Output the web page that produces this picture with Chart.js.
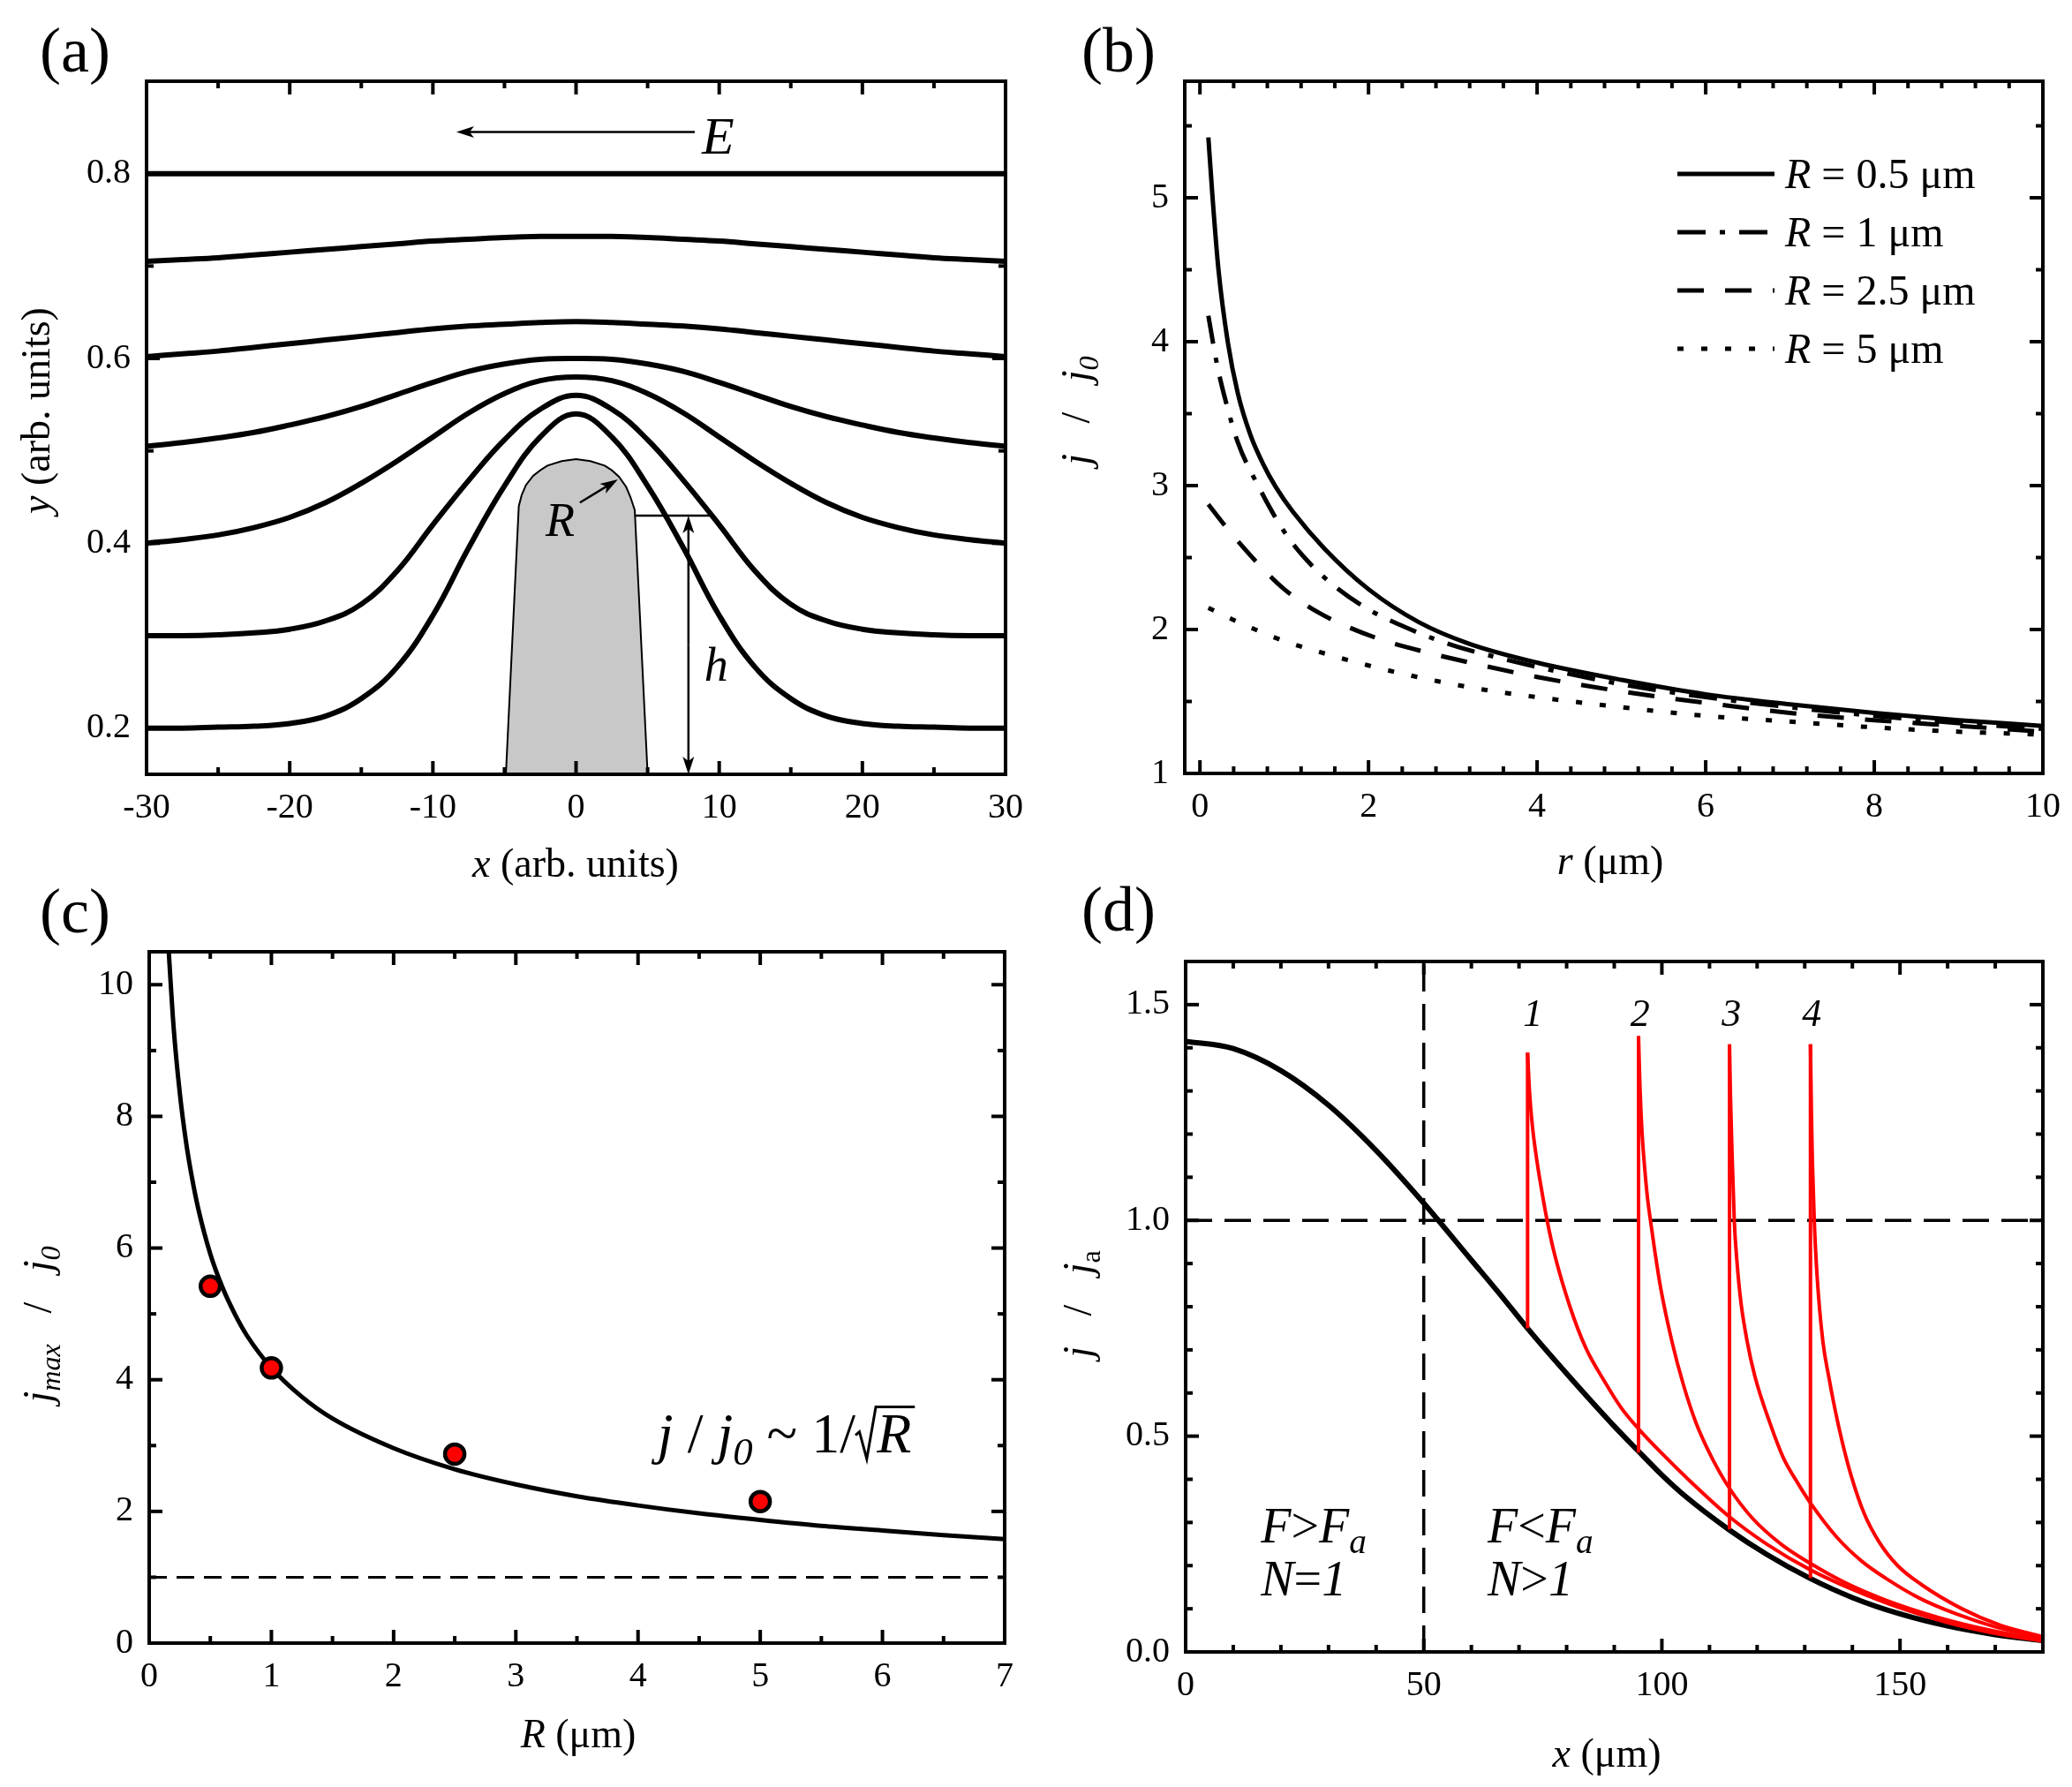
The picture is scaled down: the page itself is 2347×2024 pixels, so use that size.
<!DOCTYPE html>
<html>
<head>
<meta charset="utf-8">
<script src="https://cdn.jsdelivr.net/npm/chart.js@4.4.1/dist/chart.umd.min.js"></script>
<style>
  body { margin: 0; background: #fff; width: 2347px; height: 2024px; position: relative; overflow: hidden; }
  canvas { position: absolute; }
</style>
</head>
<body>
<canvas id="pa" width="1174" height="1012" style="left:0;top:0"></canvas>
<canvas id="pb" width="1173" height="1012" style="left:1174px;top:0"></canvas>
<canvas id="pc" width="1174" height="1064" style="left:0;top:960px"></canvas>
<canvas id="pd" width="1173" height="1064" style="left:1174px;top:960px"></canvas>
<script>
// ---------- (a) field lines around the tip ----------
const fieldX = [-30,-27.5,-25,-22.5,-20,-17.5,-15,-12.5,-10,-7.5,-5,-2.5,0,2.5,5,7.5,10,12.5,15,17.5,20,22.5,25,27.5,30];
const field02 = [0.200,0.200,0.201,0.202,0.205,0.213,0.232,0.266,0.322,0.395,0.462,0.515,0.540,0.515,0.462,0.395,0.322,0.266,0.232,0.213,0.205,0.202,0.201,0.200,0.200];
const field03 = [0.300,0.300,0.301,0.303,0.307,0.316,0.334,0.370,0.420,0.468,0.512,0.545,0.560,0.545,0.512,0.468,0.420,0.370,0.334,0.316,0.307,0.303,0.301,0.300,0.300];
const field04 = [0.400,0.404,0.409,0.417,0.428,0.444,0.465,0.489,0.515,0.541,0.562,0.576,0.580,0.576,0.562,0.541,0.515,0.489,0.465,0.444,0.428,0.417,0.409,0.404,0.400];
const field05 = [0.505,0.509,0.514,0.520,0.528,0.537,0.548,0.561,0.574,0.586,0.594,0.599,0.600,0.599,0.594,0.586,0.574,0.561,0.548,0.537,0.528,0.520,0.514,0.509,0.505];
const field06 = [0.602,0.605,0.608,0.612,0.616,0.620,0.624,0.628,0.632,0.635,0.637,0.639,0.640,0.639,0.637,0.635,0.632,0.628,0.624,0.620,0.616,0.612,0.608,0.605,0.602];
const field07 = [0.705,0.707,0.709,0.712,0.715,0.718,0.721,0.724,0.727,0.729,0.731,0.732,0.732,0.732,0.731,0.729,0.727,0.724,0.721,0.718,0.715,0.712,0.709,0.707,0.705];
const field08X = [-30, 30];
const field08 = [0.8, 0.8];
const tipX = [-4.9,-4.0,-3.8,-3.5,-3.0,-2.5,-2.0,-1.0,0,1.0,2.0,2.5,3.0,3.5,3.8,4.1,5.0];
const tipY = [0.15,0.440,0.452,0.463,0.473,0.479,0.484,0.489,0.491,0.489,0.484,0.479,0.472,0.461,0.450,0.436,0.15];
const aXTicks = [-30,-20,-10,0,10,20,30];
const aXLabels = ['-30','-20','-10','0','10','20','30'];
const aXMinor = [-25,-15,-5,5,15,25];
const aYTicks = [0.2,0.4,0.6,0.8];
const aYLabels = ['0.2','0.4','0.6','0.8'];
const aYMinor = [0.3,0.5,0.7];
const eArrowX = [-8.36, 8.29], eArrowY = 0.845;
const rArrow = [0.27, 0.444, 2.92, 0.469];
const hLineX = [4.1, 9.5], hLineY = 0.43, hArrowX = 7.85;

// ---------- (b) j/j0 vs r ----------
const bX05 = [0.1,0.15,0.22,0.33,0.45,0.6,0.75,0.9,1.1,1.48,2.0,2.6,3.2,4,5,6,7,8,9,10];
const bY05 = [5.42,5.0,4.5,4.0,3.64,3.35,3.15,2.99,2.82,2.56,2.28,2.05,1.9,1.77,1.65,1.55,1.48,1.42,1.37,1.33];
const bX1 = [0.1,0.2,0.3,0.45,0.69,1.0,1.24,1.6,2.0,2.5,3,3.5,4,5,6,7,8,9,10];
const bY1 = [4.18,3.85,3.6,3.3,3.0,2.68,2.5,2.3,2.14,2.0,1.89,1.81,1.74,1.62,1.53,1.46,1.40,1.35,1.31];
const bX25 = [0.1,0.3,0.5,0.75,1,1.4,1.75,2.2,2.7,3.2,4,5,6,7,8,9,10];
const bY25 = [2.87,2.72,2.58,2.42,2.28,2.12,2.02,1.92,1.84,1.77,1.67,1.57,1.49,1.42,1.37,1.33,1.29];
const bX5 = [0.1,0.5,1,1.5,2,2.5,3,3.5,4,5,6,7,8,9,10];
const bY5 = [2.15,2.04,1.92,1.83,1.75,1.68,1.62,1.57,1.53,1.46,1.40,1.36,1.32,1.29,1.27];
const bLegend = ['0.5', '1', '2.5', '5'];
const bXTicks = [0,2,4,6,8,10];
const bXLabels = ['0','2','4','6','8','10'];
const bXMinor = [0.4,0.8,1.2,1.6,2.4,2.8,3.2,3.6,4.4,4.8,5.2,5.6,6.4,6.8,7.2,7.6,8.4,8.8,9.2,9.6];
const bYTicks = [1,2,3,4,5];
const bYLabels = ['1','2','3','4','5'];
const bYMinor = [1.5,2.5,3.5,4.5,5.5];

// ---------- (c) jmax/j0 vs R ----------
const cFitX = [0.15,0.2,0.25,0.3,0.35,0.4,0.5,0.6,0.7,0.8,1,1.25,1.5,2,2.5,3,3.5,4,4.5,5,5.5,6,6.5,7];
const cFitY = [10.8,9.35,8.36,7.63,7.07,6.61,5.91,5.40,5.0,4.67,4.18,3.74,3.41,2.96,2.64,2.41,2.23,2.09,1.97,1.87,1.78,1.71,1.64,1.58];
const cDotX = [0.5, 1, 2.5, 5];
const cDotY = [5.42, 4.18, 2.87, 2.15];
const cRefX = [0, 7], cRefY = [1, 1];
const cXTicks = [0,1,2,3,4,5,6,7];
const cXLabels = ['0','1','2','3','4','5','6','7'];
const cXMinor = [0.5,1.5,2.5,3.5,4.5,5.5,6.5];
const cYTicks = [0,2,4,6,8,10];
const cYLabels = ['0','2','4','6','8','10'];
const cYMinor = [1,3,5,7,9];

// ---------- (d) j/ja vs x ----------
const dBaseX = [0,10,20,30,40,50,60,66,72,80,90,95,100,105,114,122,131,140,150,160,170,180];
const dBaseY = [1.415,1.398,1.347,1.267,1.162,1.04,0.908,0.829,0.747,0.645,0.523,0.466,0.41,0.36,0.284,0.226,0.171,0.126,0.088,0.06,0.04,0.026];
const d1JumpX = [71.8, 71.8], d1JumpY = [0.75, 1.389];
const d1X = [71.8,72.2,72.8,73.6,74.6,75.9,77.5,80.7,84,88,91.5,95.1,100,106,114.2,122,131.2,140,150,160,170,180];
const d1Y = [1.389,1.30,1.22,1.15,1.08,1.0,0.92,0.80,0.705,0.626,0.565,0.517,0.46,0.395,0.313,0.25,0.19,0.145,0.102,0.068,0.043,0.025];
const d2JumpX = [95.1, 95.1], d2JumpY = [0.462, 1.427];
const d2X = [95.1,95.4,95.8,96.4,97.0,97.6,98.5,99.8,102.1,104.5,107.2,110.5,114.2,119,125,131.2,138.2,147,158,169,180];
const d2Y = [1.427,1.31,1.21,1.12,1.05,1.0,0.93,0.84,0.72,0.62,0.53,0.45,0.379,0.31,0.25,0.205,0.162,0.12,0.08,0.05,0.028];
const d3JumpX = [114.2, 114.2], d3JumpY = [0.284, 1.408];
const d3X = [114.2,114.4,114.7,115.2,115.8,116.6,117.9,119.5,122.7,125.5,128.6,131.2,136.8,142,147.1,154,161.8,170,180];
const d3Y = [1.408,1.29,1.17,1.0,0.9,0.81,0.72,0.64,0.53,0.45,0.39,0.345,0.265,0.21,0.17,0.125,0.088,0.058,0.032];
const d4JumpX = [131.2, 131.2], d4JumpY = [0.171, 1.408];
const d4X = [131.2,131.4,131.6,132,132.6,133.8,135,136.3,137.8,139.7,142.5,145.6,149.5,154.5,163,171,180];
const d4Y = [1.408,1.25,1.14,1.0,0.87,0.72,0.64,0.565,0.49,0.41,0.32,0.255,0.2,0.156,0.1,0.062,0.035];
const dRefHX = [0, 180], dRefHY = [1, 1];
const dRefVX = [50, 50], dRefVY = [0, 1.6];
const dCurveTags = ['1', '2', '3', '4'];
const dCurveTagX = [72.9, 95.4, 114.6, 131.5];
const dXTicks = [0,50,100,150];
const dXLabels = ['0','50','100','150'];
const dXMinor = [10,20,30,40,60,70,80,90,110,120,130,140,160,170];
const dYTicks = [0,0.5,1.0,1.5];
const dYLabels = ['0.0','0.5','1.0','1.5'];
const dYMinor = [0.1,0.2,0.3,0.4,0.6,0.7,0.8,0.9,1.1,1.2,1.3,1.4];

const SERIF = '"Liberation Serif", "Times New Roman", serif';
Chart.defaults.font.family = SERIF;

const pts = (xs, ys) => xs.map((x, i) => ({x: x, y: ys[i]}));

// draws mixed italic / subscript text, returns its width
function rich(ctx, segs, x, y, size, align, rot) {
  ctx.save();
  ctx.translate(x, y);
  if (rot) ctx.rotate(rot);
  ctx.textBaseline = 'alphabetic';
  ctx.textAlign = 'left';
  const parts = segs.map(([t, st]) => {
    const sub = st.includes('s');
    const font = (st.includes('i') ? 'italic ' : '') + (sub ? size * 0.7 : size) + 'px ' + SERIF;
    ctx.font = font;
    return {t: t, font: font, w: ctx.measureText(t).width, dy: sub ? size * 0.22 : 0};
  });
  const total = parts.reduce((s, p) => s + p.w, 0);
  let cx = align === 'center' ? -total / 2 : (align === 'right' ? -total : 0);
  ctx.fillStyle = '#000';
  parts.forEach(p => { ctx.font = p.font; ctx.fillText(p.t, cx, p.dy); cx += p.w; });
  ctx.restore();
  return total;
}

function arrow(ctx, x1, y1, x2, y2) {
  const len = 20, half = 6.5;
  const ang = Math.atan2(y2 - y1, x2 - x1), c = Math.cos(ang), s = Math.sin(ang);
  ctx.beginPath(); ctx.moveTo(x1, y1); ctx.lineTo(x2 - c * len * 0.7, y2 - s * len * 0.7); ctx.stroke();
  ctx.beginPath();
  ctx.moveTo(x2, y2);
  ctx.lineTo(x2 - len * c + half * s, y2 - len * s - half * c);
  ctx.lineTo(x2 - len * c * 0.75, y2 - len * s * 0.75);
  ctx.lineTo(x2 - len * c - half * s, y2 - len * s + half * c);
  ctx.closePath(); ctx.fill();
}

// frame, mirrored inward ticks, titles, panel tag, annotations
const decor = {
  id: 'decor',
  afterDatasetsDraw(chart, args, o) {
    const ctx = chart.ctx, a = chart.chartArea;
    const sx = chart.scales.x, sy = chart.scales.y;
    ctx.save();
    ctx.strokeStyle = '#000';
    ctx.fillStyle = '#000';
    ctx.lineWidth = 4;
    const seg = (x1, y1, x2, y2) => { ctx.beginPath(); ctx.moveTo(x1, y1); ctx.lineTo(x2, y2); ctx.stroke(); };
    const xt = (vals, len) => vals.forEach(v => { const p = sx.getPixelForValue(v); seg(p, a.bottom, p, a.bottom - len); seg(p, a.top, p, a.top + len); });
    const yt = (vals, len) => vals.forEach(v => { const p = sy.getPixelForValue(v); seg(a.left, p, a.left + len, p); seg(a.right, p, a.right - len, p); });
    xt(o.xMajor, 15); xt(o.xMinor, 8); yt(o.yMajor, 15); yt(o.yMinor, 8);
    ctx.strokeRect(a.left, a.top, a.right - a.left, a.bottom - a.top);
    rich(ctx, [[o.tag, '']], o.tagX, o.tagY, 72, 'left');
    rich(ctx, o.xTitle, o.xTitleX, o.xTitleY, 46, 'center');
    rich(ctx, o.yTitle, o.yTitleX, o.yTitleY, 46, 'center', -Math.PI / 2);
    if (o.extra) {
      ctx.lineWidth = 2.5;
      o.extra(ctx, v => sx.getPixelForValue(v), v => sy.getPixelForValue(v), chart);
    }
    ctx.restore();
  }
};

function scales(o) {
  const tickFont = {family: SERIF, size: 40};
  return {
    x: {
      type: 'linear', min: o.xMin, max: o.xMax, bounds: 'data',
      grid: {display: false, drawTicks: false}, border: {display: false},
      afterBuildTicks: s => { s.ticks = o.xTicks.map(v => ({value: v})); },
      afterFit: s => { s.height = o.xH; s.paddingLeft = 0; s.paddingRight = 0; },
      ticks: {font: tickFont, color: '#000', padding: 14, maxRotation: 0, autoSkip: false,
              callback: (v, i) => o.xLabels[i]}
    },
    y: {
      type: 'linear', min: o.yMin, max: o.yMax, bounds: 'data',
      grid: {display: false, drawTicks: false}, border: {display: false},
      afterBuildTicks: s => { s.ticks = o.yTicks.map(v => ({value: v})); },
      afterFit: s => { s.width = o.yW; s.paddingTop = 0; s.paddingBottom = 0; },
      ticks: {font: tickFont, color: '#000', padding: 18, autoSkip: false,
              callback: (v, i) => o.yLabels[i]}
    }
  };
}

function makeChart(id, datasets, sc, pad, deco) {
  return new Chart(document.getElementById(id), {
    type: 'line',
    data: {datasets: datasets},
    options: {
      responsive: false,
      animation: false,
      devicePixelRatio: 1,
      layout: {padding: pad},
      elements: {point: {radius: 0}, line: {borderCapStyle: 'butt'}},
      scales: scales(sc),
      plugins: {legend: {display: false}, tooltip: {enabled: false}, decor: deco}
    },
    plugins: [decor]
  });
}

const field = (ys, xs) => ({data: pts(xs || fieldX, ys), borderColor: '#000', borderWidth: 6,
  tension: 0.4, order: 1});

// (a)
makeChart('pa', [
  field(field02), field(field03), field(field04), field(field05), field(field06), field(field07),
  field(field08, field08X),
  {data: pts(tipX, tipY), borderColor: '#000', borderWidth: 2, backgroundColor: '#c8c8c8',
   fill: 'start', tension: 0, order: 5}
], {xMin: -30, xMax: 30, yMin: 0.15, yMax: 0.9, xTicks: aXTicks, xLabels: aXLabels,
    yTicks: aYTicks, yLabels: aYLabels, xH: 135, yW: 166},
  {top: 92, right: 35, left: 0, bottom: 0},
  {tag: '(a)', tagX: 45, tagY: 81, xMajor: aXTicks, xMinor: aXMinor, yMajor: aYTicks, yMinor: aYMinor,
   xTitle: [['x', 'i'], [' (arb. units)', '']], xTitleX: 652, xTitleY: 993,
   yTitle: [['y', 'i'], [' (arb. units)', '']], yTitleX: 56, yTitleY: 465,
   extra: (ctx, X, Y) => {
     arrow(ctx, X(eArrowX[1]), Y(eArrowY), X(eArrowX[0]), Y(eArrowY));
     rich(ctx, [['E', 'i']], X(8.78), Y(0.822), 60, 'left');
     arrow(ctx, X(rArrow[0]), Y(rArrow[1]), X(rArrow[2]), Y(rArrow[3]));
     rich(ctx, [['R', 'i']], X(-2.13), Y(0.408), 54, 'left');
     ctx.beginPath(); ctx.moveTo(X(hLineX[0]), Y(hLineY)); ctx.lineTo(X(hLineX[1]), Y(hLineY)); ctx.stroke();
     const xm = X(hArrowX), yt = Y(hLineY), yb = Y(0.15);
     arrow(ctx, xm, (yt + yb) / 2, xm, yt);
     arrow(ctx, xm, (yt + yb) / 2, xm, yb);
     rich(ctx, [['h', 'i']], X(8.96), Y(0.251), 54, 'left');
   }});

// (b)
const bLine = (xs, ys, dash) => ({data: pts(xs, ys), borderColor: '#000', borderWidth: 5,
  borderDash: dash, cubicInterpolationMode: 'monotone'});
makeChart('pb', [
  bLine(bX05, bY05, []),
  bLine(bX1, bY1, [32, 16, 6, 16]),
  bLine(bX25, bY25, [30, 24]),
  bLine(bX5, bY5, [7, 20])
], {xMin: -0.18, xMax: 10, yMin: 1, yMax: 5.81, xTicks: bXTicks, xLabels: bXLabels,
    yTicks: bYTicks, yLabels: bYLabels, xH: 136, yW: 168},
  {top: 92, right: 33, left: 0, bottom: 0},
  {tag: '(b)', tagX: 51, tagY: 81, xMajor: bXTicks, xMinor: bXMinor, yMajor: bYTicks, yMinor: bYMinor,
   xTitle: [['r', 'i'], [' (μm)', '']], xTitleX: 650, xTitleY: 990,
   yTitle: [['j', 'i'], ['   /   ', ''], ['j', 'i'], ['0', 'is']], yTitleX: 60, yTitleY: 465,
   extra: (ctx, X, Y, chart) => {
     const rows = [197, 263, 329, 395];
     chart.data.datasets.forEach((ds, i) => {
       ctx.save();
       ctx.lineWidth = 5;
       ctx.setLineDash(ds.borderDash);
       ctx.beginPath(); ctx.moveTo(726, rows[i]); ctx.lineTo(836, rows[i]); ctx.stroke();
       ctx.restore();
       rich(ctx, [['R', 'i'], [' = ' + bLegend[i] + ' μm', '']], 848, rows[i] + 16, 48, 'left');
     });
   }});

// (c)
makeChart('pc', [
  {data: pts(cDotX, cDotY), showLine: false, pointRadius: 11, pointBackgroundColor: '#ff0000',
   pointBorderColor: '#000', pointBorderWidth: 4.5, order: 0},
  {data: pts(cFitX, cFitY), borderColor: '#000', borderWidth: 5, cubicInterpolationMode: 'monotone', order: 1},
  {data: pts(cRefX, cRefY), borderColor: '#000', borderWidth: 3, borderDash: [20, 11], order: 2}
], {xMin: 0, xMax: 7, yMin: 0, yMax: 10.5, xTicks: cXTicks, xLabels: cXLabels,
    yTicks: cYTicks, yLabels: cYLabels, xH: 163, yW: 169},
  {top: 118, right: 36, left: 0, bottom: 0},
  {tag: '(c)', tagX: 45, tagY: 96, xMajor: cXTicks, xMinor: cXMinor, yMajor: cYTicks, yMinor: cYMinor,
   xTitle: [['R', 'i'], [' (μm)', '']], xTitleX: 655, xTitleY: 1019,
   yTitle: [['j', 'i'], ['max', 'is'], ['   /   ', ''], ['j', 'i'], ['0', 'is']], yTitleX: 58, yTitleY: 540,
   extra: (ctx, X, Y) => {
     const s = 64, b = Y(2.9);
     let x = X(4.16);
     x += rich(ctx, [['j', 'i'], [' / ', ''], ['j', 'i'], ['0', 'is'], [' ~ 1/', '']], x, b, s, 'left');
     ctx.font = 'italic ' + s + 'px ' + SERIF;
     const wR = ctx.measureText('R').width;
     ctx.lineWidth = 3;
     ctx.beginPath();
     ctx.moveTo(x, b - 0.3 * s);
     ctx.lineTo(x + 0.07 * s, b - 0.36 * s);
     ctx.lineTo(x + 0.2 * s, b + 0.12 * s);
     ctx.lineTo(x + 0.36 * s, b - 0.8 * s);
     ctx.lineTo(x + 0.4 * s + wR + 0.04 * s, b - 0.8 * s);
     ctx.stroke();
     rich(ctx, [['R', 'i']], x + 0.38 * s, b, s, 'left');
   }});

// (d)
const red = (xs, ys, mono) => ({data: pts(xs, ys), borderColor: '#ff0000', borderWidth: 4,
  tension: 0, cubicInterpolationMode: mono ? 'monotone' : 'default', order: 1});
makeChart('pd', [
  red(d1JumpX, d1JumpY), red(d1X, d1Y, true),
  red(d2JumpX, d2JumpY), red(d2X, d2Y, true),
  red(d3JumpX, d3JumpY), red(d3X, d3Y, true),
  red(d4JumpX, d4JumpY), red(d4X, d4Y, true),
  {data: pts(dBaseX, dBaseY), borderColor: '#000', borderWidth: 6, cubicInterpolationMode: 'monotone', order: 2},
  {data: pts(dRefHX, dRefHY), borderColor: '#000', borderWidth: 3.5, borderDash: [30, 14], order: 3},
  {data: pts(dRefVX, dRefVY), borderColor: '#000', borderWidth: 3.5, borderDash: [30, 14], order: 3}
], {xMin: 0, xMax: 180, yMin: 0, yMax: 1.6, xTicks: dXTicks, xLabels: dXLabels,
    yTicks: dYTicks, yLabels: dYLabels, xH: 153, yW: 169},
  {top: 129, right: 33, left: 0, bottom: 0},
  {tag: '(d)', tagX: 51, tagY: 94, xMajor: dXTicks, xMinor: dXMinor, yMajor: dYTicks, yMinor: dYMinor,
   xTitle: [['x', 'i'], [' (μm)', '']], xTitleX: 646, xTitleY: 1041,
   yTitle: [['j', 'i'], ['   /   ', ''], ['j', 'i'], ['a', 's']], yTitleX: 62, yTitleY: 517,
   extra: (ctx, X, Y) => {
     dCurveTags.forEach((t, i) => rich(ctx, [[t, 'i']], X(dCurveTagX[i]), Y(1.45), 44, 'center'));
     rich(ctx, [['F', 'i'], ['>', ''], ['F', 'i'], ['a', 'is']], X(15.8), Y(0.254), 56, 'left');
     rich(ctx, [['N', 'i'], ['=', ''], ['1', 'i']], X(15.8), Y(0.131), 56, 'left');
     rich(ctx, [['F', 'i'], ['<', ''], ['F', 'i'], ['a', 'is']], X(63.4), Y(0.254), 56, 'left');
     rich(ctx, [['N', 'i'], ['>', ''], ['1', 'i']], X(63.4), Y(0.131), 56, 'left');
   }});
</script>
</body>
</html>
